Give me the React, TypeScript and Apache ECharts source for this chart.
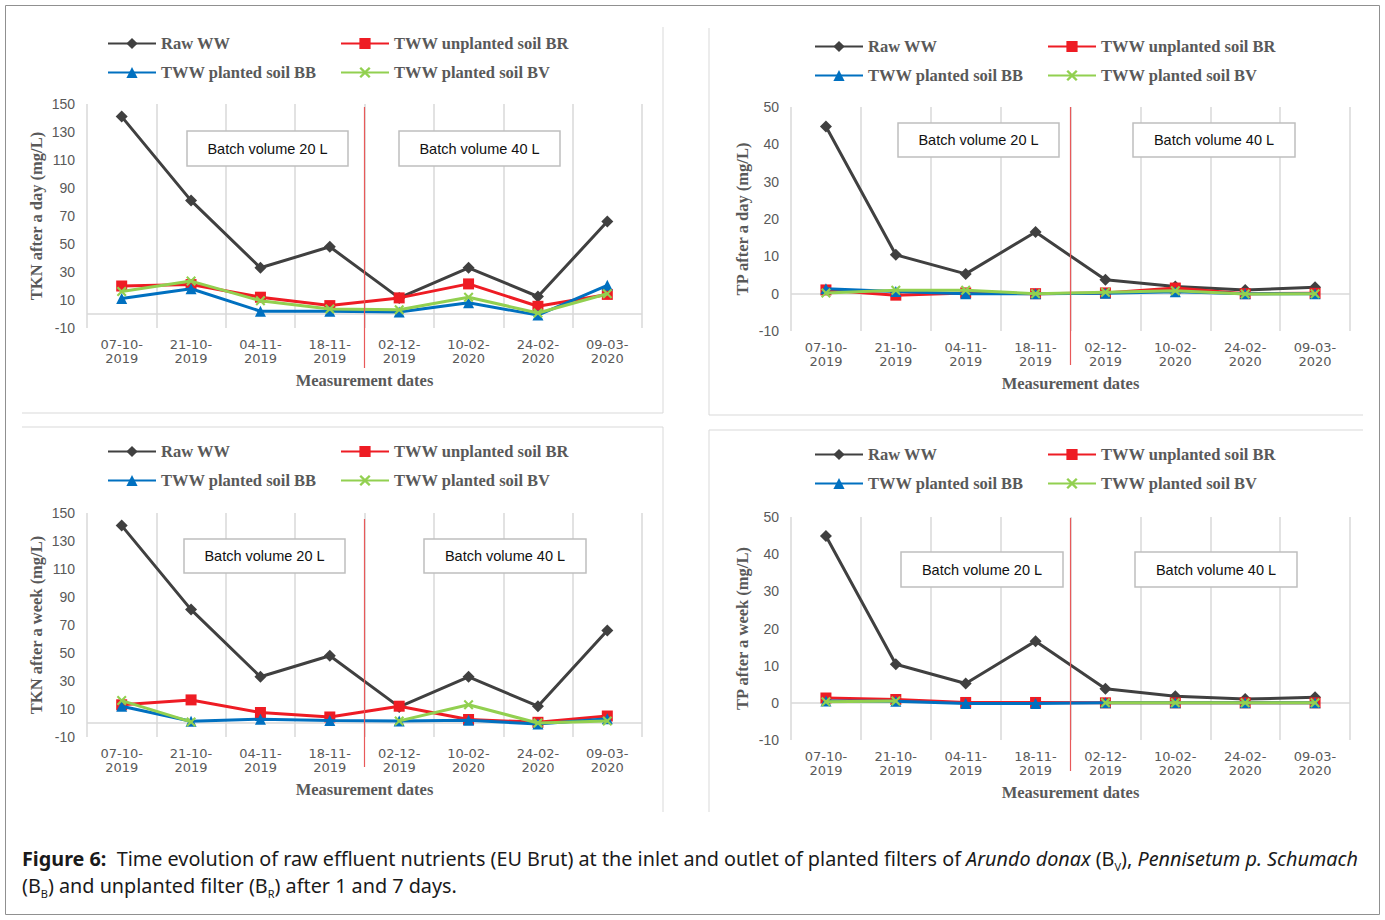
import React, { useEffect, useRef } from 'react';
import * as echarts from 'echarts';

// ---------- data ----------
const dates = ['07-10-2019', '21-10-2019', '04-11-2019', '18-11-2019', '02-12-2019', '10-02-2020', '24-02-2020', '09-03-2020'];
const seriesNames = ['Raw WW', 'TWW unplanted soil BR', 'TWW planted soil BB', 'TWW planted soil BV'];

const tknDayRaw = [141, 81, 33, 48, 11.5, 33, 12.5, 66];
const tknDayBR = [20, 21, 12, 6, 11.5, 21.5, 5.5, 14];
const tknDayBB = [11, 18, 2, 2, 1.5, 8, -0.8, 20.5];
const tknDayBV = [16, 23.5, 9.5, 3.5, 3, 12, 0.7, 14.5];

const tknWeekRaw = [141, 81, 33, 48, 11.5, 33, 12, 66];
const tknWeekBR = [13, 16.5, 7.5, 4.3, 12, 2.5, 0.5, 5];
const tknWeekBB = [12, 1.3, 2.7, 1.8, 1.5, 2, -0.8, 3];
const tknWeekBV = [16, 0.8, null, null, 1.5, 13, 0, 1.5];

const tpDayRaw = [44.8, 10.4, 5.3, 16.5, 3.7, 1.9, 1, 1.7];
const tpDayBR = [1, -0.4, 0.2, 0, 0.2, 1.5, 0, 0.1];
const tpDayBB = [1.3, 0.6, 0, 0, 0.1, 0.5, 0, 0];
const tpDayBV = [0.2, 0.9, 0.9, 0, 0.4, 0.8, -0.1, 0];

const tpWeekRaw = [44.9, 10.4, 5.2, 16.6, 3.8, 1.8, 1, 1.5];
const tpWeekBR = [1.3, 0.9, 0.1, 0.1, 0, 0, 0, 0];
const tpWeekBB = [0.5, 0.4, -0.2, -0.2, 0, 0, 0, 0];
const tpWeekBV = [0.3, 0.5, null, null, 0, 0, 0, 0];

const tknAxis = { min: -10, max: 150, interval: 20 };
const tpAxis = { min: -10, max: 50, interval: 10 };

const yNames = ['TKN after a day (mg/L)', 'TP after a day (mg/L)', 'TKN after a week (mg/L)', 'TP after a week (mg/L)'];
const xName = 'Measurement dates';
const batchLabels = ['Batch volume 20 L', 'Batch volume 40 L'];

// ---------- layout / style ----------
const X_PATH = 'path://M0,1.5L1.5,0L5,3.5L8.5,0L10,1.5L6.5,5L10,8.5L8.5,10L5,6.5L1.5,10L0,8.5L3.5,5Z';
const seriesStyles = [
  { color: '#404040', symbol: 'diamond', symbolSize: 12 },
  { color: '#ee1c24', symbol: 'rect', symbolSize: 11 },
  { color: '#0070c0', symbol: 'triangle', symbolSize: 11 },
  { color: '#92d050', symbol: X_PATH, symbolSize: 10 },
];

const panels = [
  { grid: { left: 87, top: 104, width: 555, height: 224 }, axis: tknAxis, data: [tknDayRaw, tknDayBR, tknDayBB, tknDayBV],
    legend: { c1: 107, c2: 340, r1: 43, r2: 72 }, boxes: [[187, 131, 161, 35], [399, 131, 161, 35]], red: [107, 368], nameGapY: 42 },
  { grid: { left: 791, top: 107, width: 559, height: 224 }, axis: tpAxis, data: [tpDayRaw, tpDayBR, tpDayBB, tpDayBV],
    legend: { c1: 814, c2: 1047, r1: 46, r2: 75 }, boxes: [[898, 123, 161, 34], [1133, 123, 162, 34]], red: [107, 365], nameGapY: 40 },
  { grid: { left: 87, top: 513, width: 555, height: 224 }, axis: tknAxis, data: [tknWeekRaw, tknWeekBR, tknWeekBB, tknWeekBV],
    legend: { c1: 107, c2: 340, r1: 451, r2: 480 }, boxes: [[184, 539, 161, 34], [424, 539, 162, 34]], red: [519, 767], nameGapY: 42 },
  { grid: { left: 791, top: 517, width: 559, height: 223 }, axis: tpAxis, data: [tpWeekRaw, tpWeekBR, tpWeekBB, tpWeekBV],
    legend: { c1: 814, c2: 1047, r1: 454, r2: 483 }, boxes: [[901, 552, 162, 35], [1135, 552, 162, 35]], red: [518, 771], nameGapY: 40 },
];

const GRAY = '#595959';
const serif = 'Liberation Serif';

function buildOption() {
  const grid: any[] = [];
  const xAxis: any[] = [];
  const yAxis: any[] = [];
  const series: any[] = [];
  const legend: any[] = [];
  const graphic: any[] = [];

  panels.forEach((p, i) => {
    grid.push({ ...p.grid, containLabel: false, outerBoundsMode: 'none' });
    xAxis.push({
      type: 'category', gridIndex: i, data: dates, boundaryGap: true,
      axisLine: { show: false }, axisTick: { show: false },
      splitLine: { show: true, lineStyle: { color: '#d9d9d9', width: 1.5 } },
      axisLabel: {
        interval: 0, margin: 9, color: GRAY, fontFamily: 'DejaVu Sans', fontSize: 13, lineHeight: 14,
        formatter: (v: string) => v.slice(0, 6) + '\n' + v.slice(6),
      },
      name: xName, nameLocation: 'middle', nameGap: 44,
      nameTextStyle: { color: GRAY, fontFamily: serif, fontWeight: 'bold', fontSize: 16.5 },
    });
    yAxis.push({
      type: 'value', gridIndex: i, min: p.axis.min, max: p.axis.max, interval: p.axis.interval,
      axisLine: { show: false }, axisTick: { show: false }, splitLine: { show: false },
      axisLabel: { color: GRAY, fontFamily: 'Liberation Sans', fontSize: 14, margin: 12 },
      name: yNames[i], nameLocation: 'middle', nameGap: p.nameGapY,
      nameTextStyle: { color: GRAY, fontFamily: serif, fontWeight: 'bold', fontSize: 16.5 },
    });
    p.data.forEach((arr, k) => {
      const st = seriesStyles[k];
      const s: any = {
        type: 'line', name: seriesNames[k], xAxisIndex: i, yAxisIndex: i, data: arr,
        symbol: st.symbol, symbolSize: st.symbolSize, showAllSymbol: true,
        connectNulls: false,
        lineStyle: { color: st.color, width: 3 },
        itemStyle: { color: st.color },
        emphasis: { disabled: true },
        z: 2 + k * 0.01,
      };
      if (k === 0) {
        s.markLine = {
          silent: true, symbol: 'none', z: 1, animation: false,
          label: { show: false }, emphasis: { disabled: true },
          lineStyle: { color: '#d9d9d9', width: 1.5, type: 'solid' },
          data: [{ yAxis: 0 }],
        };
      }
      series.push(s);
    });
    const L = p.legend;
    const pos = [[L.c1, L.r1], [L.c2, L.r1], [L.c1, L.r2], [L.c2, L.r2]];
    seriesNames.forEach((n, k) => {
      legend.push({
        data: [n], left: pos[k][0], top: pos[k][1] - 8, padding: 0, itemWidth: 48, itemHeight: 14,
        selectedMode: false,
        textStyle: { color: GRAY, fontFamily: serif, fontWeight: 'bold', fontSize: 16.5 },
      });
    });
    // batch volume boxes
    p.boxes.forEach((b, j) => {
      graphic.push({
        type: 'rect', shape: { x: b[0], y: b[1], width: b[2], height: b[3] },
        style: { fill: '#ffffff', stroke: '#bfbfbf', lineWidth: 1.5 }, z: 10,
      });
      graphic.push({
        type: 'text', z: 11,
        style: {
          text: batchLabels[j], x: b[0] + b[2] / 2, y: b[1] + b[3] / 2,
          fontFamily: 'Liberation Sans', fontSize: 14.5, fill: '#111111',
          align: 'center', verticalAlign: 'middle', textAlign: 'center', textVerticalAlign: 'middle',
        },
      });
    });
    // divider between batch volumes (boundary between 4th and 5th category)
    const xDiv = p.grid.left + p.grid.width / 2;
    graphic.push({
      type: 'line', z: 9, shape: { x1: xDiv, y1: p.red[0], x2: xDiv, y2: p.red[1] },
      style: { stroke: '#e8595a', lineWidth: 1.2 },
    });
  });

  // panel borders
  const borderLines = [
    [663, 27, 663, 413], [22, 413, 663, 413],
    [709, 28, 709, 415], [709, 415, 1363, 415],
    [22, 427, 663, 427], [663, 427, 663, 812],
    [709, 430, 1363, 430], [709, 430, 709, 812],
  ];
  borderLines.forEach((l) => {
    graphic.push({ type: 'line', z: 0, shape: { x1: l[0], y1: l[1], x2: l[2], y2: l[3] }, style: { stroke: '#d9d9d9', lineWidth: 1 } });
  });
  graphic.push({
    type: 'rect', z: 0, shape: { x: 5.5, y: 5.5, width: 1374, height: 909 },
    style: { fill: 'none', stroke: '#909090', lineWidth: 1 },
  });

  // caption
  const CAP = 19.8;
  const LH = 28;
  const capRich = {
    b: { fontWeight: 'bold', fontFamily: 'Noto Sans', fontSize: CAP, lineHeight: LH },
    i: { fontStyle: 'italic', fontFamily: 'Noto Sans', fontSize: CAP, lineHeight: LH },
    n: { fontFamily: 'Noto Sans', fontSize: CAP, lineHeight: LH },
    s: { fontFamily: 'Noto Sans', fontSize: 11, verticalAlign: 'bottom' },
  };
  const capBase = {
    x: 22, fontFamily: 'Noto Sans', fontSize: CAP, lineHeight: LH, fill: '#1a1a1a',
    align: 'left', verticalAlign: 'middle', textAlign: 'left', textVerticalAlign: 'middle',
    rich: capRich,
  };
  graphic.push({
    type: 'text', z: 12,
    style: {
      ...capBase, y: 858,
      text: '{b|Figure 6:}{n|  Time evolution of raw effluent nutrients (EU Brut) at the inlet and outlet of planted filters of }{i|Arundo donax}{n| (B}{s|V}{n|), }{i|Pennisetum p. Schumach}',
    },
  });
  graphic.push({
    type: 'text', z: 12,
    style: {
      ...capBase, y: 885,
      text: '{n|(B}{s|B}{n|) and unplanted filter (B}{s|R}{n|) after 1 and 7 days.}',
    },
  });

  return {
    animation: false,
    backgroundColor: '#ffffff',
    grid, xAxis, yAxis, series, legend, graphic,
  };
}

export default function App() {
  const ref = useRef<HTMLDivElement>(null);
  useEffect(() => {
    document.body.style.margin = '0';
    if (!ref.current) return;
    const chart = echarts.init(ref.current, undefined, { renderer: 'svg' });
    chart.setOption(buildOption() as any);
    return () => chart.dispose();
  }, []);
  return <div ref={ref} style={{ width: 1385, height: 920 }} />;
}
